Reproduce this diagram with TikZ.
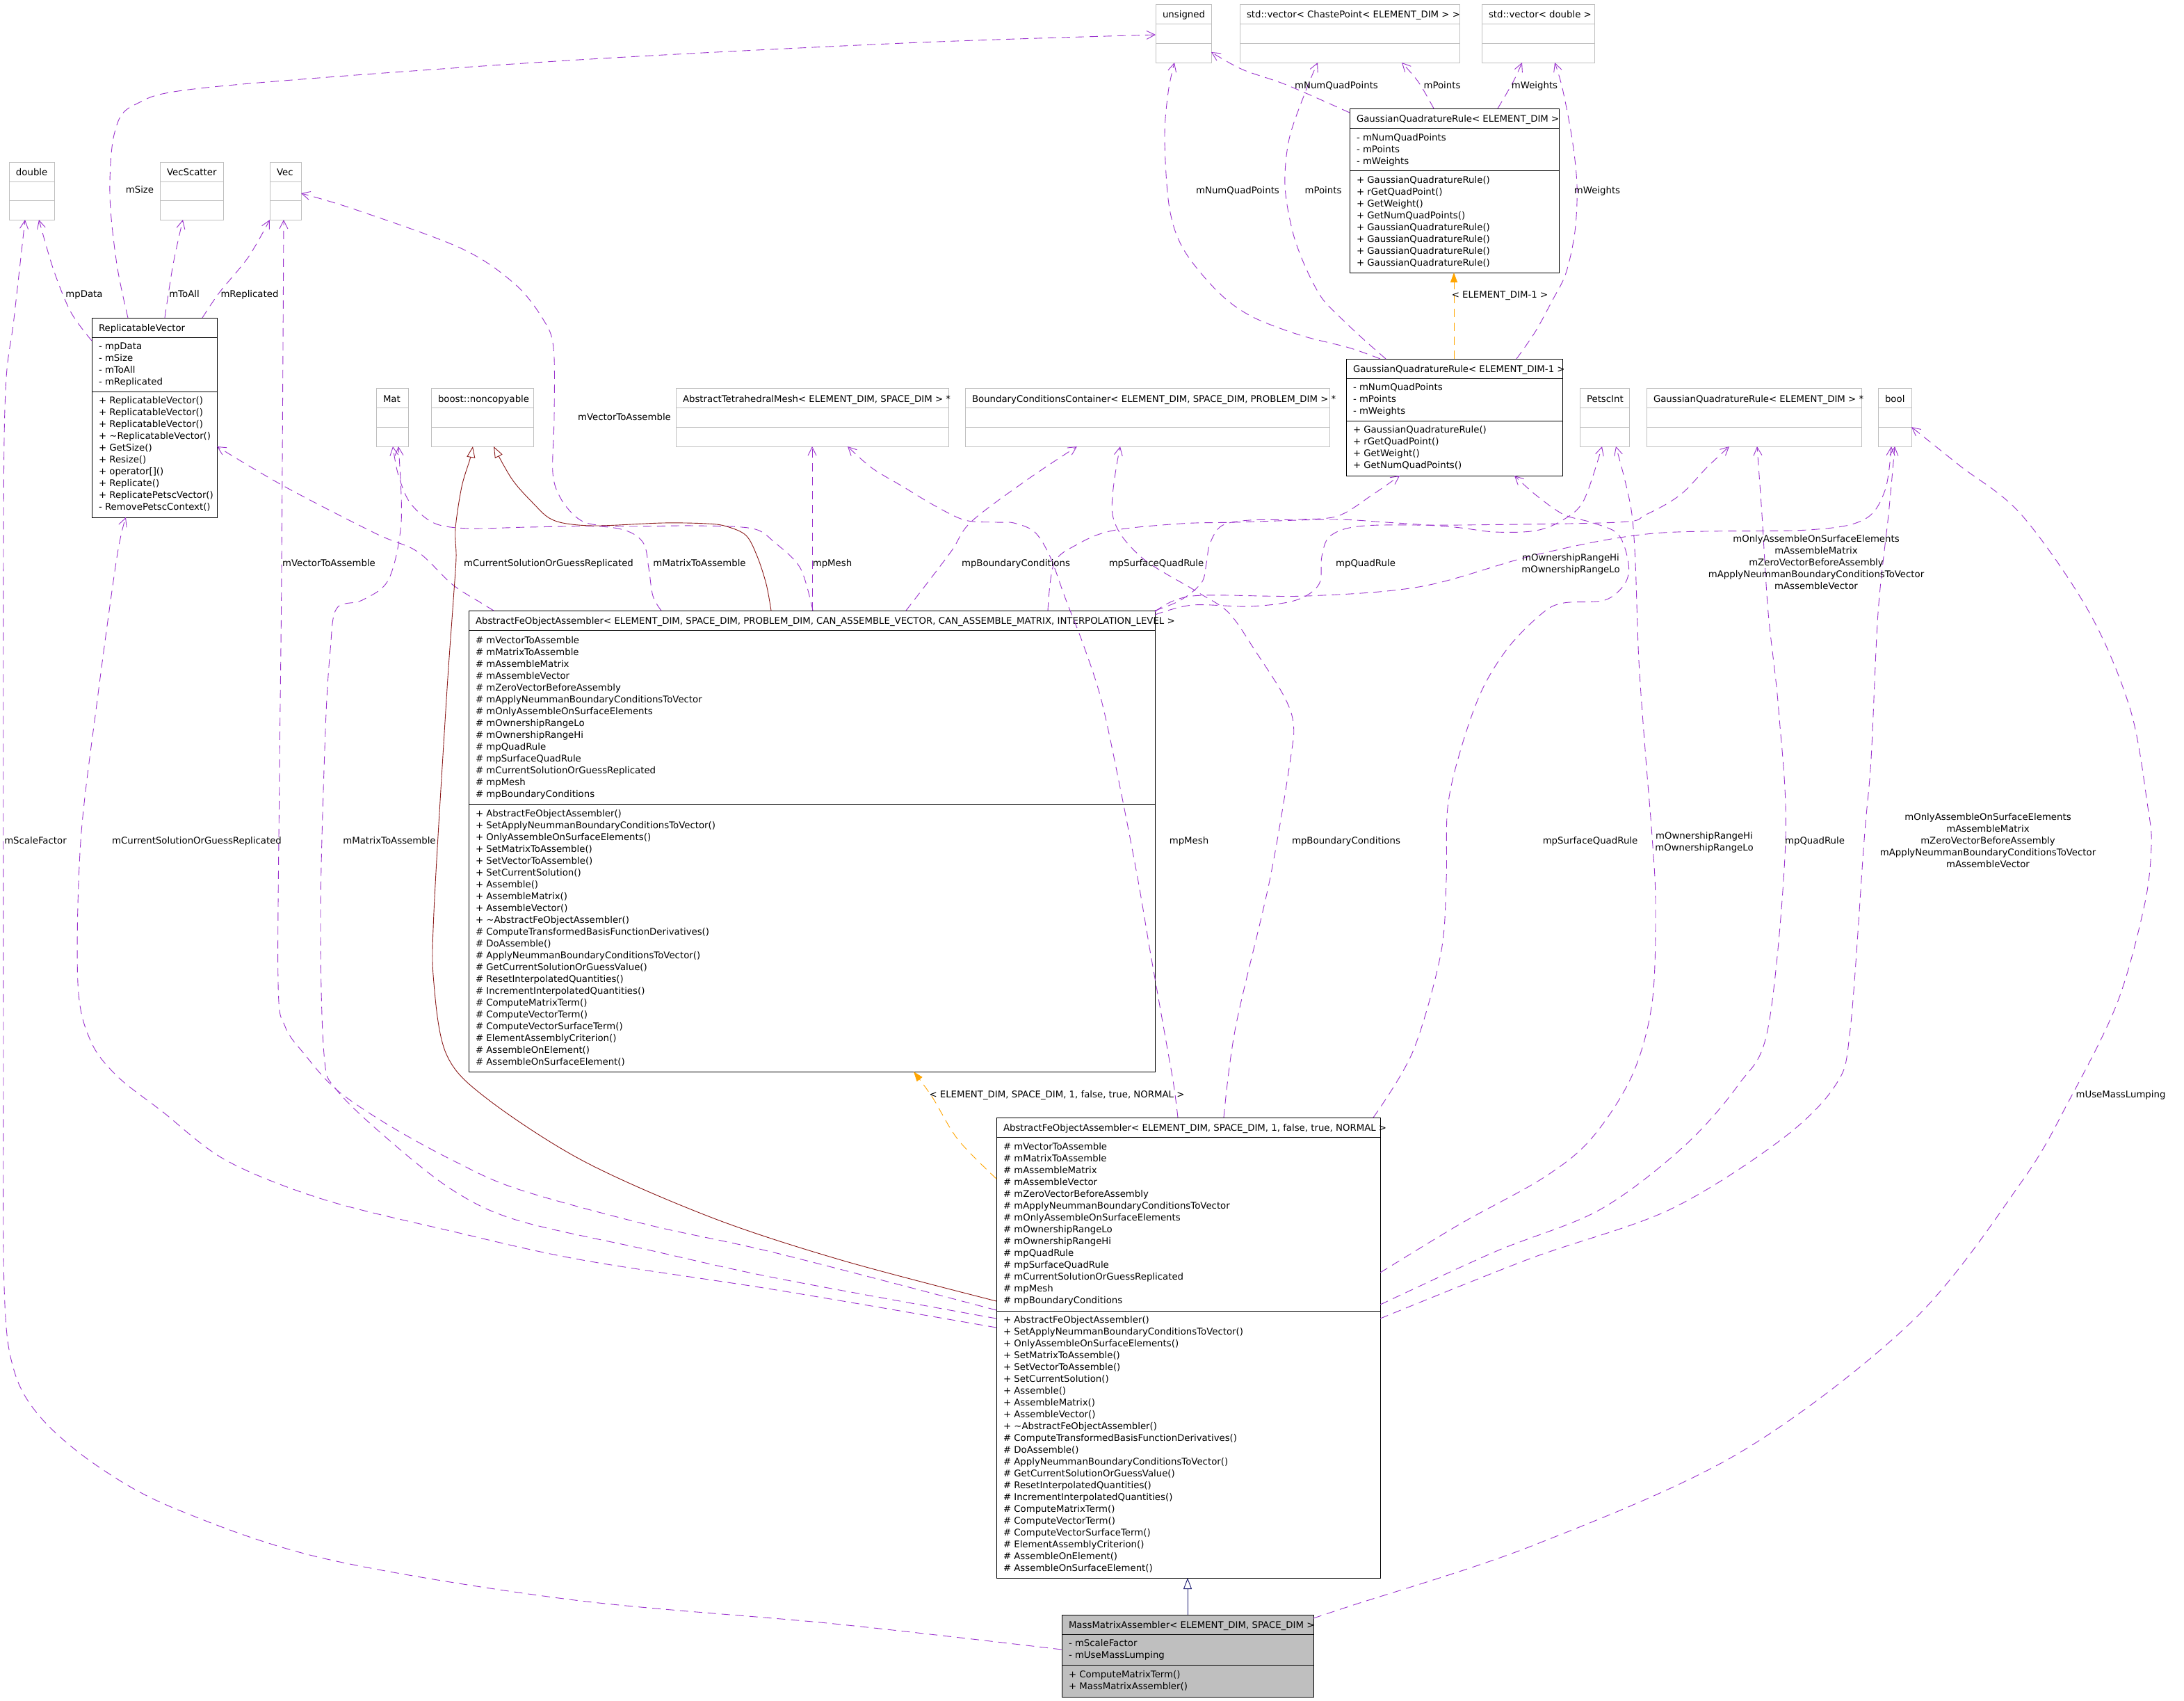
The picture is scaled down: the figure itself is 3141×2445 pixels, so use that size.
\documentclass[tikz,border=0pt]{standalone}
\usepackage{fontspec}
\setmainfont{DejaVu Sans}
\usetikzlibrary{arrows.meta}
\definecolor{usecol}{HTML}{9A32CD}
\definecolor{gline}{HTML}{BFBFBF}
\definecolor{inhred}{HTML}{8B1A1A}
\definecolor{inhblue}{HTML}{191970}
\definecolor{tmplcol}{HTML}{FFA500}
\definecolor{massfill}{HTML}{BFBFBF}

\newcommand\ubox[8]{%
  \node[#2, minimum width={#5-#3}, minimum height={#8-#4}] (#1) at (#3,#4) {};
  \draw[#2line] (#3,#6) -- (#5,#6) (#3,#7) -- (#5,#7);
}
\newcommand\rows[4]{%
  \foreach \rowtext [count=\i] in #4 {\node[txt, anchor=base west] (#1\i) at (#2, {#3+17*\i}) {\rowtext};}
}

\def\rvattrs{- mpData,- mSize,- mToAll,- mReplicated}
\def\rvmeths{+ ReplicatableVector(),+ ReplicatableVector(),+ ReplicatableVector(),+ \textasciitilde ReplicatableVector(),+ GetSize(),+ Resize(),+ operator[](),+ Replicate(),+ ReplicatePetscVector(),- RemovePetscContext()}
\def\gqrattrs{- mNumQuadPoints,- mPoints,- mWeights}
\def\gqrmeths{+ GaussianQuadratureRule(),+ rGetQuadPoint(),+ GetWeight(),+ GetNumQuadPoints(),+ GaussianQuadratureRule(),+ GaussianQuadratureRule(),+ GaussianQuadratureRule(),+ GaussianQuadratureRule()}
\def\gqrimeths{+ GaussianQuadratureRule(),+ rGetQuadPoint(),+ GetWeight(),+ GetNumQuadPoints()}
\def\afoaattrs{\# mVectorToAssemble,\# mMatrixToAssemble,\# mAssembleMatrix,\# mAssembleVector,\# mZeroVectorBeforeAssembly,\# mApplyNeummanBoundaryConditionsToVector,\# mOnlyAssembleOnSurfaceElements,\# mOwnershipRangeLo,\# mOwnershipRangeHi,\# mpQuadRule,\# mpSurfaceQuadRule,\# mCurrentSolutionOrGuessReplicated,\# mpMesh,\# mpBoundaryConditions}
\def\afoameths{+ AbstractFeObjectAssembler(),+ SetApplyNeummanBoundaryConditionsToVector(),+ OnlyAssembleOnSurfaceElements(),+ SetMatrixToAssemble(),+ SetVectorToAssemble(),+ SetCurrentSolution(),+ Assemble(),+ AssembleMatrix(),+ AssembleVector(),+ \textasciitilde AbstractFeObjectAssembler(),\# ComputeTransformedBasisFunctionDerivatives(),\# DoAssemble(),\# ApplyNeummanBoundaryConditionsToVector(),\# GetCurrentSolutionOrGuessValue(),\# ResetInterpolatedQuantities(),\# IncrementInterpolatedQuantities(),\# ComputeMatrixTerm(),\# ComputeVectorTerm(),\# ComputeVectorSurfaceTerm(),\# ElementAssemblyCriterion(),\# AssembleOnElement(),\# AssembleOnSurfaceElement()}
\def\massattrs{- mScaleFactor,- mUseMassLumping}
\def\massmeths{+ ComputeMatrixTerm(),+ MassMatrixAssembler()}

\begin{document}
\begin{tikzpicture}[x=1pt,y=-1pt,
  font=\fontsize{13.3}{17}\selectfont,
  bbox/.style={draw=black, fill=white, line width=0.9pt, inner sep=0pt, outer sep=0pt, anchor=north west},
  bboxline/.style={draw=black, line width=0.9pt},
  gbox/.style={draw=gline, fill=white, line width=0.9pt, inner sep=0pt, outer sep=0pt, anchor=north west},
  gboxline/.style={draw=gline, line width=0.9pt},
  mbox/.style={draw=black, fill=massfill, line width=0.9pt, inner sep=0pt, outer sep=0pt, anchor=north west},
  mboxline/.style={draw=black, line width=0.9pt},
  txt/.style={inner sep=0pt, outer sep=0pt},
  lbl/.style={inner sep=0pt, outer sep=0pt, anchor=base},
  mlbl/.style={inner sep=0pt, outer sep=0pt, anchor=center, align=center},
  use/.style={draw=usecol, line width=0.9pt, dash pattern=on 12pt off 8pt, -{Straight Barb[length=12pt,width=12pt,line width=0.9pt]}},
  inhr/.style={draw=inhred, line width=0.9pt, -{Triangle[open, length=16pt, width=12pt, fill=white, line width=0.9pt]}},
  inhb/.style={draw=inhblue, line width=0.9pt, -{Triangle[open, length=16pt, width=12pt, fill=white, line width=0.9pt]}},
  tmpl/.style={draw=tmplcol, line width=0.9pt, dash pattern=on 12pt off 8pt, -{Triangle[length=14pt, width=10pt]}},
  sm/.style={smooth, tension=0.55}
]
\useasboundingbox[fill=white] (0,0) rectangle (3141,2445);

% ---------------- boxes ----------------
\ubox{unsigned}{gbox}{1662}{6}{1742}{34}{62}{90}
\ubox{vchaste}{gbox}{1783}{6}{2099}{34}{62}{90}
\ubox{vdouble}{gbox}{2131}{6}{2293}{34}{62}{90}
\ubox{gqr}{bbox}{1941}{156}{2242}{184}{245}{392}
\ubox{double}{gbox}{13}{233}{78}{261}{288}{316}
\ubox{vecscatter}{gbox}{230}{233}{321}{261}{288}{316}
\ubox{vec}{gbox}{388}{233}{433}{261}{288}{316}
\ubox{rv}{bbox}{132}{457}{312}{485}{563}{744}
\ubox{mat}{gbox}{541}{558}{587}{586}{614}{642}
\ubox{noncopyable}{gbox}{620}{558}{767}{586}{614}{642}
\ubox{atm}{gbox}{972}{558}{1364}{586}{614}{642}
\ubox{bcc}{gbox}{1388}{558}{1912}{586}{614}{642}
\ubox{gqri}{bbox}{1936}{516}{2247}{544}{605}{684}
\ubox{petscint}{gbox}{2272}{558}{2343}{586}{614}{642}
\ubox{gqrp}{gbox}{2368}{558}{2677}{586}{614}{642}
\ubox{bool}{gbox}{2701}{558}{2749}{586}{614}{642}
\ubox{afoai}{bbox}{674}{878}{1661}{906}{1156}{1541}
\ubox{afoaii}{bbox}{1433}{1607}{1985}{1635}{1885}{2269}
\ubox{mass}{mbox}{1527}{2322}{1889}{2350}{2394}{2440}

% ---------------- box texts ----------------
\node[txt, anchor=base west] (unsignedh) at (1672,25) {unsigned};
\node[txt, anchor=base west] (vchasteh) at (1793,25) {std::vector< ChastePoint< ELEMENT\_DIM > >};
\node[txt, anchor=base west] (vdoubleh) at (2141,25) {std::vector< double >};
\node[txt, anchor=base west] (gqrh) at (1951,175) {GaussianQuadratureRule< ELEMENT\_DIM >};
\rows{gqra}{1951}{185}{\gqrattrs}
\rows{gqrm}{1951}{246}{\gqrmeths}
\node[txt, anchor=base west] (doubleh) at (23,252) {double};
\node[txt, anchor=base west] (vecscatterh) at (240,252) {VecScatter};
\node[txt, anchor=base west] (vech) at (398,252) {Vec};
\node[txt, anchor=base west] (rvh) at (142,476) {ReplicatableVector};
\rows{rva}{142}{485}{\rvattrs}
\rows{rvm}{142}{563}{\rvmeths}
\node[txt, anchor=base west] (math) at (551,578) {Mat};
\node[txt, anchor=base west] (noncopyableh) at (630,578) {boost::noncopyable};
\node[txt, anchor=base west] (atmh) at (982,578) {AbstractTetrahedralMesh< ELEMENT\_DIM, SPACE\_DIM > *};
\node[txt, anchor=base west] (bcch) at (1398,578) {BoundaryConditionsContainer< ELEMENT\_DIM, SPACE\_DIM, PROBLEM\_DIM > *};
\node[txt, anchor=base west] (gqrih) at (1946,535) {GaussianQuadratureRule< ELEMENT\_DIM-1 >};
\rows{gqria}{1946}{544}{\gqrattrs}
\rows{gqrim}{1946}{605}{\gqrimeths}
\node[txt, anchor=base west] (petscinth) at (2282,578) {PetscInt};
\node[txt, anchor=base west] (gqrph) at (2378,578) {GaussianQuadratureRule< ELEMENT\_DIM > *};
\node[txt, anchor=base west] (boolh) at (2711,578) {bool};
\node[txt, anchor=base west] (afoaih) at (684,897) {AbstractFeObjectAssembler< ELEMENT\_DIM, SPACE\_DIM, PROBLEM\_DIM, CAN\_ASSEMBLE\_VECTOR, CAN\_ASSEMBLE\_MATRIX, INTERPOLATION\_LEVEL >};
\rows{afoaia}{684}{908}{\afoaattrs}
\rows{afoaim}{684}{1157}{\afoameths}
\node[txt, anchor=base west] (afoaiih) at (1443,1626) {AbstractFeObjectAssembler< ELEMENT\_DIM, SPACE\_DIM, 1, false, true, NORMAL >};
\rows{afoaiia}{1443}{1636}{\afoaattrs}
\rows{afoaiim}{1443}{1885}{\afoameths}
\node[txt, anchor=base west] (massh) at (1537,2341) {MassMatrixAssembler< ELEMENT\_DIM, SPACE\_DIM >};
\rows{massa}{1537}{2350}{\massattrs}
\rows{massm}{1537}{2395}{\massmeths}

% ---------------- edges: ReplicatableVector ----------------
\draw[use] plot[sm] coordinates {(rv.west |- 0,490) (102,449) (77,388) (double.south -| 56,0)};
\draw[use] plot[sm] coordinates {(rv.north -| 184,0) (168,380) (158,280) (165,190) (195,150) (306,125) (800,88) (1300,62) (unsigned.west |- 0,50)};
\draw[use] plot[sm] coordinates {(rv.north -| 237,0) (249,380) (vecscatter.south -| 263,0)};
\draw[use] plot[sm] coordinates {(rv.north -| 291,0) (316,420) (357,370) (vec.south west)};

% ---------------- edges: GaussianQuadratureRule ----------------
\draw[use] plot[sm] coordinates {(gqr.west |- 0,162) (1850,122) (1787,100) (unsigned.east |- 0,75)};
\draw[use] plot[sm] coordinates {(gqr.north -| 2062,0) (2040,118) (vchaste.south -| 2016,0)};
\draw[use] plot[sm] coordinates {(gqr.north -| 2154,0) (2176,118) (vdouble.south -| 2189,0)};
\draw[use] plot[sm] coordinates {(gqri.north -| 1985,0) (1940,500) (1870,482) (1800,455) (1752,420) (1703,360) (1682,300) (1675,200) (1680,133) (unsigned.south -| 1689,0)};
\draw[use] plot[sm] coordinates {(gqri.north -| 1993,0) (1960,487) (1924,453) (1900,427) (1877,383) (1859,333) (1848,267) (1854,200) (1877,133) (vchaste.south -| 1895,0)};
\draw[use] plot[sm] coordinates {(gqri.north -| 2181,0) (2208,477) (2232,433) (2252,393) (2265,333) (2268,267) (2261,200) (2247,127) (vdouble.south -| 2236,0)};
\draw[tmpl] (gqri.north -| 2091,0) -- (gqr.south -| 2091,0);

% ---------------- edges: upper AbstractFeObjectAssembler ----------------
\draw[use] plot[sm] coordinates {(afoai.north -| 1169,0) (1151,817) (1114,780) (1082,760) (999,756) (907,757) (852,754) (828,743) (806,716) (795,680) (797,600) (796,500) (781,459) (740,408) (663,357) (510,301) (vec.east |- 0,278)};
\draw[use] plot[sm] coordinates {(afoai.north -| 951,0) (939,857) (933,817) (926,782) (903,764) (860,757) (760,758) (678,760) (632,755) (606,740) (586,717) (572,680) (mat.south -| 565,0)};
\draw[use] plot[sm] coordinates {(afoai.north -| 710,0) (692,867) (650,840) (600,793) (540,767) (410,700) (rv.east |- 0,642)};
\draw[inhr] plot[sm] coordinates {(afoai.north -| 1109,0) (1102,840) (1089,800) (1073,770) (1045,757) (1017,753) (953,752) (861,756) (815,753) (790,745) (770,727) (737,690) (noncopyable.south -| 710,0)};
\draw[use] (afoai.north -| 1168,0) -- (atm.south -| 1168,0);
\draw[use] plot[sm] coordinates {(afoai.north -| 1303,0) (1340,830) (1370,790) (1397,750) (1477,690) (bcc.south -| 1549,0)};
\draw[use] plot[sm] coordinates {(afoai.north east) (1698,863) (1728,838) (1735,810) (1740,782) (1757,756) (1797,748) (1865,747) (1924,742) (1973,712) (gqri.south -| 2013,0)};
\draw[use] plot[sm] coordinates {(afoai.east |- 0,884) (1715,870) (1798,872) (1864,863) (1897,840) (1901,800) (1914,770) (1963,756) (2100,755) (2327,751) (2367,740) (2416,712) (2455,672) (gqrp.south -| 2487,0)};
\draw[use] plot[sm] coordinates {(afoai.north -| 1507,0) (1516,810) (1549,783) (1600,763) (1698,753) (1777,751) (1915,747) (1993,751) (2091,758) (2150,765) (2209,763) (2249,747) (2278,719) (petscint.south -| 2304,0)};
\draw[use] plot[sm] coordinates {(afoai.east |- 0,880) (1715,857) (1880,857) (2046,843) (2212,797) (2378,767) (2600,762) (2681,747) (2711,705) (bool.south -| 2720,0)};

% ---------------- edges: lower AbstractFeObjectAssembler ----------------
\draw[use] plot[sm] coordinates {(afoaii.west |- 0,1884) (1117,1802) (931,1761) (745,1710) (652,1669) (559,1618) (484,1567) (438,1516) (410,1476) (400,1414) (402,1108) (405,822) (vec.south -| 408,0)};
\draw[use] plot[sm] coordinates {(afoaii.west |- 0,1896) (1117,1838) (931,1797) (745,1755) (652,1712) (559,1639) (484,1567) (466,1516) (461,1312) (468,1050) (475,935) (484,875) (521,863) (559,833) (577,751) (mat.south -| 573,0)};
\draw[use] plot[sm] coordinates {(afoaii.west |- 0,1909) (1117,1855) (838,1812) (652,1771) (466,1725) (326,1669) (233,1598) (168,1547) (130,1496) (112,1414) (116,1210) (140,1006) (168,802) (rv.south -| 181,0)};
\draw[inhr] plot[sm] coordinates {(afoaii.west |- 0,1871) (1210,1812) (1024,1751) (838,1669) (698,1578) (642,1516) (624,1414) (624,1312) (642,1006) (652,863) (656,802) (655,760) (664,700) (676,660) (noncopyable.south -| 680,0)};
\draw[use] plot[sm] coordinates {(afoaii.north -| 1694,0) (1688,1560) (1678,1503) (1655,1373) (1636,1262) (1610,1128) (1584,1007) (1558,927) (1532,860) (1510,800) (1488,765) (1458,752) (1433,751) (1388,748) (1344,727) (1299,700) (1254,673) (atm.south -| 1219,0)};
\draw[use] plot[sm] coordinates {(afoaii.north -| 1760,0) (1777,1477) (1826,1266) (1856,1091) (1860,1040) (1846,1000) (1806,937) (1767,881) (1720,850) (1640,800) (1600,740) (bcc.south -| 1611,0)};
\draw[use] plot[sm] coordinates {(afoaii.north -| 1975,0) (2032,1512) (2072,1372) (2080,1266) (2082,1161) (2101,1077) (2131,993) (2170,930) (2219,881) (2249,867) (2308,863) (2337,839) (2342,810) (2327,768) (2288,751) (2249,740) (2209,712) (gqri.south -| 2178,0)};
\draw[use] plot[sm] coordinates {(afoaii.east |- 0,1830) (2100,1760) (2219,1694) (2288,1638) (2347,1547) (2376,1442) (2381,1301) (2376,1203) (2367,1091) (2357,951) (2352,810) (2347,740) (2337,691) (petscint.south -| 2324,0)};
\draw[use] plot[sm] coordinates {(afoaii.east |- 0,1876) (2150,1800) (2300,1740) (2420,1650) (2500,1560) (2543,1477) (2568,1208) (2558,1021) (2543,881) (2534,740) (gqrp.south -| 2527,0)};
\draw[use] plot[sm] coordinates {(afoaii.east |- 0,1896) (2200,1810) (2400,1740) (2560,1640) (2640,1560) (2661,1480) (2681,1208) (2691,1091) (2701,881) (2716,740) (bool.south -| 2725,0)};
\draw[tmpl] plot[sm] coordinates {(afoaii.west |- 0,1695) (1378,1639) (1341,1578) (afoai.south -| 1314,0)};

% ---------------- edges: MassMatrixAssembler ----------------
\draw[inhb] (mass.north -| 1708,0) -- (afoaii.south -| 1708,0);
\draw[use] plot[sm] coordinates {(mass.west |- 0,2372) (1200,2335) (819,2300) (466,2241) (251,2169) (140,2108) (60,2040) (20,1970) (6,1850) (5,1500) (5,800) (8,561) (20,459) (double.south -| 36,0)};
\draw[use] plot[sm] coordinates {(mass.east |- 0,2327) (1940,2310) (2203,2223) (2500,2090) (2750,1900) (2907,1700) (2976,1582) (3045,1442) (3084,1302) (3094,1217) (3089,1161) (3064,1021) (3005,881) (2907,740) (2819,670) (bool.east |- 0,614)};

% ---------------- edge labels ----------------
\node[lbl] (l1) at (121,427) {mpData};
\node[lbl] (l2) at (201,277) {mSize};
\node[lbl] (l3) at (265,427) {mToAll};
\node[lbl] (l4) at (359,427) {mReplicated};
\node[lbl] (l5) at (1922,127) {mNumQuadPoints};
\node[lbl] (l6) at (2074,127) {mPoints};
\node[lbl] (l7) at (2207,127) {mWeights};
\node[lbl] (l8) at (1780,278) {mNumQuadPoints};
\node[lbl] (l9) at (1903,278) {mPoints};
\node[lbl] (l10) at (2297,278) {mWeights};
\node[lbl] (l11) at (2157,428) {< ELEMENT\_DIM-1 >};
\node[lbl] (l12) at (898,604) {mVectorToAssemble};
\node[lbl] (l13) at (473,814) {mVectorToAssemble};
\node[lbl] (l14) at (789,814) {mCurrentSolutionOrGuessReplicated};
\node[lbl] (l15) at (1006,814) {mMatrixToAssemble};
\node[lbl] (l16) at (1197,814) {mpMesh};
\node[lbl] (l17) at (1461,814) {mpBoundaryConditions};
\node[lbl] (l18) at (1663,814) {mpSurfaceQuadRule};
\node[lbl] (l19) at (1964,814) {mpQuadRule};
\node[mlbl] (l20) at (2259,811) {mOwnershipRangeHi\\mOwnershipRangeLo};
\node[mlbl] (l21) at (2612,809) {mOnlyAssembleOnSurfaceElements\\mAssembleMatrix\\mZeroVectorBeforeAssembly\\mApplyNeummanBoundaryConditionsToVector\\mAssembleVector};
\node[lbl] (l22) at (51,1213) {mScaleFactor};
\node[lbl] (l23) at (283,1213) {mCurrentSolutionOrGuessReplicated};
\node[lbl] (l24) at (560,1213) {mMatrixToAssemble};
\node[lbl] (l25) at (1710,1213) {mpMesh};
\node[lbl] (l26) at (1936,1213) {mpBoundaryConditions};
\node[lbl] (l27) at (2287,1213) {mpSurfaceQuadRule};
\node[mlbl] (l28) at (2451,1211) {mOwnershipRangeHi\\mOwnershipRangeLo};
\node[lbl] (l29) at (2610,1213) {mpQuadRule};
\node[mlbl] (l30) at (2859,1209) {mOnlyAssembleOnSurfaceElements\\mAssembleMatrix\\mZeroVectorBeforeAssembly\\mApplyNeummanBoundaryConditionsToVector\\mAssembleVector};
\node[lbl] (l31) at (3050,1578) {mUseMassLumping};
\node[lbl] (l32) at (1520,1578) {< ELEMENT\_DIM, SPACE\_DIM, 1, false, true, NORMAL >};
\end{tikzpicture}
\end{document}
